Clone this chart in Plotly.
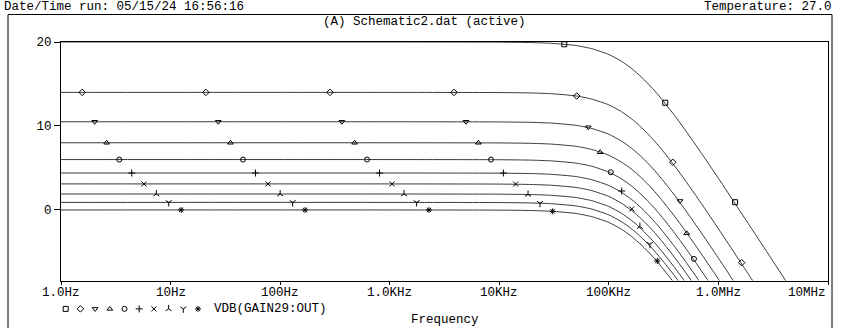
import math
import plotly.graph_objects as go

# ---------------- data ----------------
freq = [1, 1e3, 1e4, 2e4, 3e4, 5e4, 7e4, 1e5, 1.3e5, 1.6e5, 2e5, 2.5e5, 3e5,
        4e5, 5e5, 7e5, 1e6, 1.5e6, 2e6, 3e6, 5e6, 1e7]

s0 = [20, 20, 19.98, 19.93, 19.84, 19.58, 19.2, 18.51, 17.71, 16.88, 15.78, 14.48, 13.28,
      11.21, 9.48, 6.75, 3.76, 0.29, -2.19, -5.69, -10.12, -16.14]
s1 = [14, 14, 13.98, 13.93, 13.84, 13.58, 13.2, 12.51, 11.71, 10.88, 9.78, 8.48, 7.28,
      5.21, 3.48, 0.75, -2.24, -5.71, -8.19, -11.69, -16.12, -22.14]
s2 = [10.5, 10.5, 10.48, 10.43, 10.34, 10.08, 9.7, 9.01, 8.21, 7.38, 6.28, 4.98, 3.78,
      1.71, -0.02, -2.75, -5.74, -9.21, -11.69, -15.19, -19.62, -25.64]
s3 = [8, 8, 7.98, 7.93, 7.84, 7.58, 7.2, 6.51, 5.71, 4.88, 3.78, 2.48, 1.28,
      -0.79, -2.52, -5.25, -8.24, -11.71, -14.19, -17.69, -22.12, -28.14]
s4 = [6, 6, 5.98, 5.93, 5.84, 5.58, 5.2, 4.51, 3.71, 2.88, 1.78, 0.48, -0.72,
      -2.79, -4.52, -7.25, -10.24, -13.71, -16.19, -19.69, -24.12, -30.14]
s5 = [4.4, 4.4, 4.38, 4.33, 4.24, 3.98, 3.6, 2.91, 2.11, 1.28, 0.18, -1.12, -2.32,
      -4.39, -6.12, -8.85, -11.84, -15.31, -17.79, -21.29, -25.72, -31.74]
s6 = [3.1, 3.1, 3.08, 3.03, 2.94, 2.68, 2.3, 1.61, 0.81, -0.02, -1.12, -2.42, -3.62,
      -5.69, -7.42, -10.15, -13.14, -16.61, -19.09, -22.59, -27.02, -33.04]
s7 = [1.9, 1.9, 1.88, 1.83, 1.74, 1.48, 1.1, 0.41, -0.39, -1.22, -2.32, -3.62, -4.82,
      -6.89, -8.62, -11.35, -14.34, -17.81, -20.29, -23.79, -28.22, -34.24]
s8 = [0.9, 0.9, 0.88, 0.83, 0.74, 0.48, 0.1, -0.59, -1.39, -2.22, -3.32, -4.62, -5.82,
      -7.89, -9.62, -12.35, -15.34, -18.81, -21.29, -24.79, -29.22, -35.24]
s9 = [0, 0, -0.02, -0.07, -0.16, -0.42, -0.8, -1.49, -2.29, -3.12, -4.22, -5.52, -6.72,
      -8.79, -10.52, -13.25, -16.24, -19.71, -22.19, -25.69, -30.12, -36.14]
series = [s0, s1, s2, s3, s4, s5, s6, s7, s8, s9]

# marker positions on each curve (frequency, dB)
mk_f = [
    [39200, 327000, 1420000],
    [1.56, 21.0, 285, 3860, 50900, 383000, 1630000],
    [2.03, 27.2, 366, 4970, 64900, 446000],
    [2.61, 35.2, 478, 6440, 83200, 513000],
    [3.40, 45.8, 621, 8400, 104000, 598000],
    [4.42, 59.6, 807, 10900, 131000],
    [5.71, 77.4, 1050, 14100, 162000],
    [7.41, 100, 1350, 18300, 192000],
    [9.62, 130, 1760, 23500, 237000],
    [12.5, 169, 2280, 30700, 277000],
]
mk_y = [
    [19.73, 12.77, 0.92],
    [14, 14, 14, 14, 13.57, 5.68, -6.27],
    [10.5, 10.5, 10.5, 10.5, 9.85, 1.07],
    [8, 8, 8, 8, 6.87, -2.78],
    [6, 6, 6, 6, 4.49, -5.83],
    [4.4, 4.4, 4.4, 4.4, 2.26],
    [3.1, 3.1, 3.1, 3.08, 0.12],
    [1.9, 1.9, 1.9, 1.85, -1.99],
    [0.9, 0.9, 0.9, 0.8, -4.08],
    [0, 0, 0, -0.16, -6.07],
]
symbols = ["square-open", "diamond-open", "triangle-down-open", "triangle-up-open",
           "circle-open", "cross-thin-open", "x-thin-open", "y-up-open", "y-down-open",
           "asterisk-open"]

xtick_vals = [1, 10, 100, 1e3, 1e4, 1e5, 1e6, 1e7]
xtick_text = ["1.0Hz", "10Hz", "100Hz", "1.0KHz", "10KHz", "100KHz", "1.0MHz", "10MHz"]
ytick_vals = [0, 10, 20]
ytick_text = ["0", "10", "20"]
trace_name = "VDB(GAIN29:OUT)"

# ---------------- figure ----------------
FONT = "Liberation Mono, Courier New, monospace"
LINE = "#3a3a3a"
W, H = 841, 328
ML, MR, MT, MB = 61, 13, 42, 8
PH = H - MT - MB  # 278
PW = W - ML - MR  # 767
plot_bottom_px = 280.5
FS = 12.5
XR = [0, 7]


def py(px):  # pixel y -> paper y
    return (H - MB - px) / PH


def pxp(px):  # pixel x -> paper x
    return (px - ML) / PW


fig = go.Figure()
for s in series:
    fig.add_trace(go.Scatter(x=freq, y=s, mode="lines",
                             line=dict(color=LINE, width=1, shape="spline", smoothing=0.6),
                             showlegend=False, hoverinfo="skip"))
for f, y, sym in zip(mk_f, mk_y, symbols):
    fig.add_trace(go.Scatter(x=f, y=y, mode="markers",
                             marker=dict(symbol=sym, size=5, color="black",
                                         line=dict(color="black", width=1)),
                             showlegend=False, hoverinfo="skip", cliponaxis=False))

# legend row (symbols) on a hidden overlay axis in pixel units
leg_x0, leg_dx = 65.7, 14.7
fig.add_trace(go.Scatter(x=[leg_x0 + i * leg_dx for i in range(len(symbols))],
                         y=[0.5] * len(symbols), mode="markers",
                         marker=dict(symbol=symbols, size=5, color="black",
                                     line=dict(color="black", width=1)),
                         xaxis="x2", yaxis="y2", showlegend=False, hoverinfo="skip",
                         cliponaxis=False))

axis_font = dict(family=FONT, size=FS, color="black")
fig.update_layout(
    width=W, height=H,
    margin=dict(l=ML, r=MR, t=MT, b=MB, pad=0),
    paper_bgcolor="white", plot_bgcolor="white",
    xaxis=dict(type="log", range=XR, domain=[0, 1], anchor="y",
               showline=True, mirror=True, linecolor="black", linewidth=1,
               ticks="outside", ticklen=3, tickcolor="black",
               tickvals=xtick_vals, showticklabels=False,
               showgrid=False, zeroline=False),
    yaxis=dict(range=[-8.4, 20], domain=[py(plot_bottom_px), 1], anchor="x",
               showline=True, mirror=True, linecolor="black", linewidth=1,
               ticks="outside", ticklen=6, tickcolor="black",
               tickvals=ytick_vals, ticktext=ytick_text, tickfont=axis_font,
               showgrid=False, zeroline=False),
    xaxis2=dict(range=[ML, ML + PW], domain=[0, 1], anchor="y2", visible=False),
    yaxis2=dict(range=[0, 1], domain=[0, 0.08], anchor="x2", visible=False),
)

txt = dict(family=FONT, size=FS, color="black")
# x tick labels (last one sits inside the right edge, as in the original)
for i, (v, t) in enumerate(zip(xtick_vals, xtick_text)):
    xp = (math.log10(v) - XR[0]) / (XR[1] - XR[0])
    last = i == len(xtick_vals) - 1
    fig.add_annotation(x=xp, y=py(293), xref="paper", yref="paper", text=t,
                       showarrow=False, xanchor="right" if last else "center",
                       yanchor="middle", font=txt)
fig.add_annotation(x=212, y=0.5, xref="x2", yref="y2", text=trace_name,
                   showarrow=False, xanchor="left", yanchor="middle", font=txt)
fig.add_annotation(x=pxp(445), y=py(320), xref="paper", yref="paper", text="Frequency",
                   showarrow=False, xanchor="center", yanchor="middle", font=txt)
fig.add_annotation(x=pxp(2), y=py(7), xref="paper", yref="paper",
                   text="Date/Time run: 05/15/24 16:56:16",
                   showarrow=False, xanchor="left", yanchor="middle", font=txt)
fig.add_annotation(x=pxp(834), y=py(7), xref="paper", yref="paper",
                   text="Temperature: 27.0",
                   showarrow=False, xanchor="right", yanchor="middle", font=txt)
fig.add_annotation(x=pxp(424.5), y=py(22), xref="paper", yref="paper",
                   text="(A) Schematic2.dat (active)",
                   showarrow=False, xanchor="center", yanchor="middle", font=txt)

# outer frame
fig.add_shape(type="rect", xref="paper", yref="paper",
              x0=pxp(8), x1=pxp(832), y0=py(345), y1=py(14.5),
              line=dict(color="black", width=1), fillcolor="rgba(0,0,0,0)", layer="above")

fig.write_html("out.html")
